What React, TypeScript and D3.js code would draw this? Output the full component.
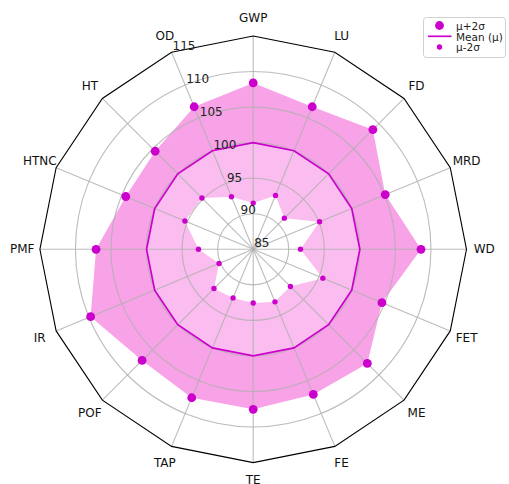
import React from "react";
import * as d3 from "d3";

const categories = ["GWP", "LU", "FD", "MRD", "WD", "FET", "ME", "FE", "TE", "TAP", "POF", "IR", "PMF", "HTNC", "HT", "OD"];
const upperValues = [108.4, 106.7, 108.8, 105.1, 108.6, 104.6, 107.7, 107.1, 107.5, 107.6, 107.1, 109.75, 107.1, 104.4, 104.5, 106.7];
const meanValues = [100, 100, 100, 100, 100, 100, 100, 100, 100, 100, 100, 100, 100, 100, 100, 100];
const lowerValues = [91.5, 93.2, 91.2, 95.1, 91.65, 95.6, 92.4, 93.0, 92.55, 92.4, 92.8, 90.2, 92.7, 95.4, 95.2, 93.0];
const radialTicks = [85, 90, 95, 100, 105, 110, 115];
const gridCircles = [90, 95, 100, 105, 110];
const legendLabels = ["μ+2σ", "Mean (μ)", "μ-2σ"];

const W = 509;
const H = 484;
const cx = 253.2;
const cy = 249.3;
const R = 213.3;
const MAG = "#cc00cc";
const FONT = "DejaVu Sans, sans-serif";

export default function App() {
  const r = d3.scaleLinear().domain([85, 115]).range([0, R]);
  const n = categories.length;
  const ang = d3.scaleLinear().domain([0, n]).range([0, 2 * Math.PI]);

  const radial = d3
    .lineRadial<number>()
    .angle((_, i) => ang(i))
    .radius((v) => r(v))
    .curve(d3.curveLinearClosed);

  const pt = (i: number, rad: number) => {
    const a = ang(i);
    return [cx + rad * Math.sin(a), cy - rad * Math.cos(a)];
  };

  const outerRing = (radial(upperValues) || "") + (radial(meanValues) || "");
  const innerRing = (radial(meanValues) || "") + (radial(lowerValues) || "");
  const frame = radial(categories.map(() => 115)) || "";

  const labelAngleIdx = n - 1; // OD spoke
  return (
    <div style={{ position: "absolute", left: 0, top: 0 }}>
      <svg width={W} height={H} style={{ display: "block", background: "#fff" }} fontFamily={FONT}>
        <g transform={`translate(${cx},${cy})`}>
          <path d={outerRing} fill="#f8a2e7" fillRule="evenodd" stroke="none" />
          <path d={innerRing} fill="#fbbcef" fillRule="evenodd" stroke="none" />
        </g>
        {gridCircles.map((v) => (
          <circle key={v} cx={cx} cy={cy} r={r(v)} fill="none" stroke="#b0b0b0" strokeOpacity={0.85} strokeWidth={1.1} />
        ))}
        {categories.map((c, i) => {
          const [x, y] = pt(i, R);
          return <line key={c} x1={cx} y1={cy} x2={x} y2={y} stroke="#b0b0b0" strokeOpacity={0.85} strokeWidth={1.1} />;
        })}
        <g transform={`translate(${cx},${cy})`}>
          <path d={frame} fill="none" stroke="#000" strokeWidth={1.1} />
          <path d={radial(meanValues) || ""} fill="none" stroke={MAG} strokeWidth={1.7} />
        </g>
        {upperValues.map((v, i) => {
          const [x, y] = pt(i, r(v));
          return <circle key={"u" + i} cx={x} cy={y} r={4.4} fill={MAG} />;
        })}
        {lowerValues.map((v, i) => {
          const [x, y] = pt(i, r(v));
          return <circle key={"l" + i} cx={x} cy={y} r={2.7} fill={MAG} />;
        })}
        {radialTicks.map((v) => {
          const [x, y] = pt(labelAngleIdx, r(v));
          return (
            <text key={v} x={x + 1} y={y - 2} fontSize={12} fill="#222" textAnchor="start">
              {v}
            </text>
          );
        })}
        {categories.map((c, i) => {
          const [x, y] = pt(i, 231);
          return (
            <text key={c} x={x} y={y} fontSize={12} fill="#111" textAnchor="middle" dominantBaseline="central">
              {c}
            </text>
          );
        })}
        <g>
          <rect x={423.5} y={17.5} width={82} height={40} rx={3} fill="#fff" fillOpacity={0.8} stroke="#d0d0d0" strokeWidth={1} />
          <circle cx={439.5} cy={25.5} r={4.4} fill={MAG} />
          <line x1={428} y1={36.3} x2={451.5} y2={36.3} stroke={MAG} strokeWidth={1.7} />
          <circle cx={439.5} cy={47} r={2.7} fill={MAG} />
          {legendLabels.map((t, i) => (
            <text key={t} x={456} y={26 + i * 10.6} fontSize={10.5} fill="#222" dominantBaseline="central">
              {t}
            </text>
          ))}
        </g>
      </svg>
    </div>
  );
}
